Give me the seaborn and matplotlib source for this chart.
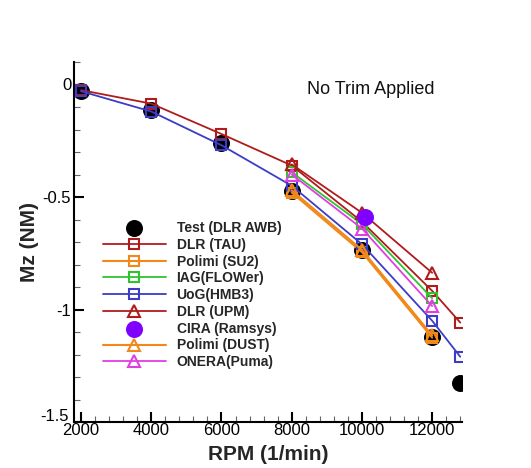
import matplotlib
matplotlib.use("Agg")
import matplotlib.pyplot as plt
from matplotlib.ticker import MultipleLocator, FixedLocator
import matplotlib.transforms as mtransforms
import seaborn as sns

# ---- data ----
rpm_test = [2000, 4000, 6000, 8000, 10000, 12000, 12800]
mz_test = [-0.03, -0.115, -0.26, -0.475, -0.735, -1.12, -1.325]

rpm_tau = [2000, 4000, 6000, 8000, 10000, 12000, 12800]
mz_tau = [-0.025, -0.085, -0.22, -0.36, -0.61, -0.917, -1.058]

rpm_su2 = [8000, 10000, 12000]
mz_su2 = [-0.48, -0.745, -1.125]

rpm_iag = [8000, 10000, 12000]
mz_iag = [-0.39, -0.62, -0.95]

rpm_uog = [2000, 4000, 6000, 8000, 10000, 12000, 12800]
mz_uog = [-0.03, -0.12, -0.27, -0.45, -0.71, -1.05, -1.21]

rpm_upm = [8000, 10000, 12000]
mz_upm = [-0.355, -0.57, -0.837]

rpm_cira = [10100]
mz_cira = [-0.59]

rpm_dust = [8000, 10000, 12000]
mz_dust = [-0.47, -0.735, -1.115]

rpm_onera = [8000, 10000, 12000]
mz_onera = [-0.40, -0.64, -0.985]

x_ticks = [2000, 4000, 6000, 8000, 10000, 12000]
y_ticks = [-1.5, -1.0, -0.5, 0.0]
y_tick_labels = ["-1.5", "-1", "-0.5", "0"]

sns.set_theme(style="white")
plt.rcParams["font.family"] = ["Liberation Sans", "DejaVu Sans"]

fig = plt.figure(figsize=(5.31, 4.68), dpi=100)
ax = fig.add_axes([74 / 531, 1 - 422 / 468, (462 - 74) / 531, (422 - 62) / 468])

dred = "#b01c1c"
orange = "#f0891a"
green = "#2fc42f"
blue = "#3c3cc8"
purple = "#7f00ff"
magenta = "#e03ee0"

ms_sq = 7.5
lw = 1.3

# Test (under everything)
sns.scatterplot(x=rpm_test, y=mz_test, ax=ax, color="black", s=150, edgecolor="black",
                linewidth=0, zorder=2, label="Test (DLR AWB)")

def line(xs, ys, color, marker, label, lwidth=lw, ms=ms_sq, z=3):
    sns.lineplot(x=xs, y=ys, ax=ax, color=color, marker=marker, markersize=ms,
                 markerfacecolor="none", markeredgecolor=color, markeredgewidth=1.5,
                 linewidth=lwidth, label=label, zorder=z, sort=False)

line(rpm_tau, mz_tau, dred, "s", "DLR (TAU)")
line(rpm_su2, mz_su2, orange, "s", "Polimi (SU2)", lwidth=1.5)
line(rpm_iag, mz_iag, green, "s", "IAG(FLOWer)")
line(rpm_uog, mz_uog, blue, "s", "UoG(HMB3)")
line(rpm_upm, mz_upm, dred, "^", "DLR (UPM)", ms=8.5)
sns.scatterplot(x=rpm_cira, y=mz_cira, ax=ax, color=purple, s=150, linewidth=0,
                zorder=6, label="CIRA (Ramsys)")
line(rpm_dust, mz_dust, orange, "^", "Polimi (DUST)", lwidth=1.5, ms=8.5)
line(rpm_onera, mz_onera, magenta, "^", "ONERA(Puma)", ms=8.5)

ax.set_xlim(1800, 12850)
ax.set_ylim(-1.5, 0.1)
ax.xaxis.set_major_locator(FixedLocator(x_ticks))
ax.xaxis.set_minor_locator(MultipleLocator(400))
ax.yaxis.set_major_locator(FixedLocator(y_ticks))
ax.set_yticklabels(y_tick_labels)
ax.yaxis.set_minor_locator(MultipleLocator(0.1))
ax.tick_params(axis="both", which="major", direction="in", length=7, width=1.5,
               labelsize=12, colors="black", pad=2)
ax.tick_params(axis="both", which="minor", direction="in", length=4, width=0.8,
               color="#666666")
ax.tick_params(axis="x", which="major", pad=1)
ax.tick_params(left=True, bottom=True, which="both")

# nudge the "-1.5" label up a little, as in the reference
lbl = ax.get_yticklabels()[0]
lbl.set_transform(lbl.get_transform() + mtransforms.ScaledTranslation(-2 / 72, 5 / 72, fig.dpi_scale_trans))

for side in ["top", "right"]:
    ax.spines[side].set_visible(False)
for side in ["left", "bottom"]:
    ax.spines[side].set_color("black")
    ax.spines[side].set_linewidth(1.5)

ax.set_xlabel("RPM (1/min)", fontsize=15, fontweight="bold", labelpad=5)
ax.set_ylabel("Mz (NM)", fontsize=15, fontweight="bold", labelpad=1)

ax.text(0.765, 0.925, "No Trim Applied", transform=ax.transAxes, fontsize=13,
        ha="center", va="center", color="#111111")

handles, labels = ax.get_legend_handles_labels()
leg = ax.legend(handles, labels, loc="upper left",
                bbox_to_anchor=(103 / 531, 1 - 221 / 468),
                bbox_transform=fig.transFigure, frameon=False,
                prop={"weight": "bold", "size": 10}, handlelength=4.5,
                handletextpad=0.8, labelspacing=0.2, borderpad=0,
                borderaxespad=0, markerscale=1.0)

fig.savefig("out.png", dpi=100)
